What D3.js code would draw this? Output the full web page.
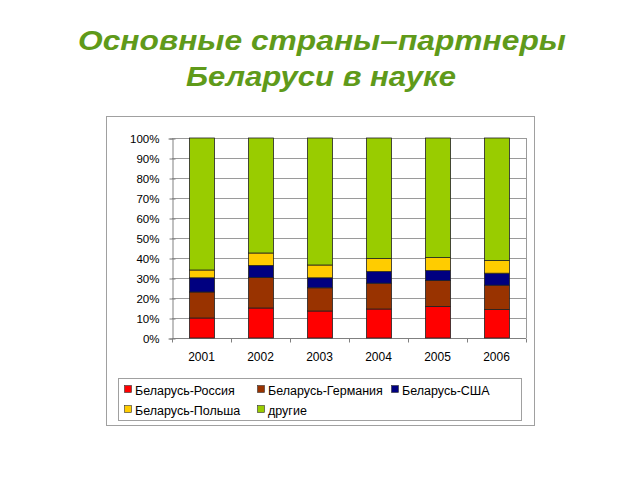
<!DOCTYPE html>
<html><head><meta charset="utf-8">
<script src="https://cdn.jsdelivr.net/npm/d3@7"></script>
<style>body{margin:0;background:#fff}svg{display:block}</style>
</head><body>
<svg id="c" width="640" height="480"></svg>
<script>
const years = ["2001","2002","2003","2004","2005","2006"];
const seriesNames = ["Беларусь-Россия","Беларусь-Германия","Беларусь-США","Беларусь-Польша","другие"];
const russia  = [10, 15, 13.5, 14.5, 15.8, 14.3];
const germany = [13, 15.2, 11.6, 12.9, 12.9, 12.1];
const usa     = [7.1, 6.1, 5, 5.8, 5, 6];
const poland  = [3.9, 6.2, 6.4, 6.5, 6.5, 6.3];
const others  = [66, 57.5, 63.5, 60.3, 59.8, 61.3];
const colors = ["#ff0000","#993300","#000080","#ffcc00","#99cc00"];
const yTicks = [0,10,20,30,40,50,60,70,80,90,100];

const svg = d3.select("#c");
const font = "'Liberation Sans', Arial, sans-serif";

// title
svg.append("text").attr("x",322).attr("y",50).attr("text-anchor","middle")
  .attr("font-family",font).attr("font-weight","bold").attr("font-style","italic")
  .attr("font-size",28.5).attr("fill","#5f9a1a")
  .attr("textLength",488).attr("lengthAdjust","spacingAndGlyphs").text("Основные страны–партнеры");
svg.append("text").attr("x",321).attr("y",86).attr("text-anchor","middle")
  .attr("font-family",font).attr("font-weight","bold").attr("font-style","italic")
  .attr("font-size",28.5).attr("fill","#5f9a1a")
  .attr("textLength",270).attr("lengthAdjust","spacingAndGlyphs").text("Беларуси в науке");

// chart frame
svg.append("rect").attr("x",106.5).attr("y",116.5).attr("width",428).attr("height",309)
  .attr("fill","#fff").attr("stroke","#a0a0a0").attr("stroke-width",1);

const L=172, R=526, T=138, B=338;
const x = d3.scaleBand().domain(years).range([L,R]).paddingInner(0.58).paddingOuter(0.29);
const y = d3.scaleLinear().domain([0,100]).range([B,T]);

const data = years.map((yr,i)=>({year:yr, s0:russia[i], s1:germany[i], s2:usa[i], s3:poland[i], s4:others[i]}));
data.forEach(d=>{const t=d.s0+d.s1+d.s2+d.s3+d.s4; ["s0","s1","s2","s3","s4"].forEach(k=>d[k]=d[k]/t*100);});
const stack = d3.stack().keys(["s0","s1","s2","s3","s4"])(data);

// gridlines
svg.append("g").selectAll("line").data(yTicks.filter(v=>v>0)).join("line")
  .attr("x1",L).attr("x2",R).attr("y1",d=>Math.round(y(d))+0.5).attr("y2",d=>Math.round(y(d))+0.5)
  .attr("stroke","#9a9a9a").attr("stroke-width",1);
svg.append("line").attr("x1",R+0.5).attr("x2",R+0.5).attr("y1",T).attr("y2",B).attr("stroke","#9a9a9a");

// y axis
const yAxis = d3.axisLeft(y).tickValues(yTicks).tickFormat(d=>d+"%").tickSize(4).tickPadding(9);
const gy = svg.append("g").attr("transform",`translate(${L+0.5},0.5)`).call(yAxis);
gy.selectAll("path,line").attr("stroke","#808080");
gy.selectAll(".tick line").attr("x2",-3).attr("x1",3);
gy.selectAll("text").attr("font-family",font).attr("font-size",11.5).attr("fill","#000");

// x axis
const gx = svg.append("g").attr("transform",`translate(0,${B+0.5})`);
gx.append("line").attr("x1",L).attr("x2",R).attr("stroke","#808080");
gx.selectAll("line.t").data(d3.range(years.length+1)).join("line").attr("class","t")
  .attr("x1",d=>Math.round(L+d*(R-L)/years.length)+0.5).attr("x2",d=>Math.round(L+d*(R-L)/years.length)+0.5)
  .attr("y1",0).attr("y2",4).attr("stroke","#808080");
gx.selectAll("text").data(years).join("text")
  .attr("x",d=>x(d)+x.bandwidth()/2).attr("y",22).attr("text-anchor","middle")
  .attr("font-family",font).attr("font-size",12).attr("fill","#000").text(d=>d);

// bars
svg.append("g").selectAll("g").data(stack).join("g").attr("fill",(d,i)=>colors[i])
  .selectAll("rect").data(d=>d).join("rect")
  .attr("x",d=>Math.round(x(d.data.year))+0.5).attr("width",Math.round(x.bandwidth()))
  .attr("y",d=>y(d[1])).attr("height",d=>y(d[0])-y(d[1]))
  .attr("stroke","#222").attr("stroke-width",0.8);

// legend
svg.append("rect").attr("x",118.5).attr("y",378.5).attr("width",403).attr("height",42)
  .attr("fill","#fff").attr("stroke","#a0a0a0");
const lpos = [[124,390],[257,390],[391,390],[124,410],[257,410]];
const lg = svg.append("g").selectAll("g").data(seriesNames).join("g")
  .attr("transform",(d,i)=>`translate(${lpos[i][0]},${lpos[i][1]})`);
lg.append("rect").attr("x",0.5).attr("y",-4.5).attr("width",7).attr("height",7)
  .attr("fill",(d,i)=>colors[i]).attr("stroke","#333").attr("stroke-width",0.6);
lg.append("text").attr("x",11).attr("y",4.5).attr("font-family",font).attr("font-size",12.5)
  .attr("fill","#000").text(d=>d);
</script>
</body></html>
